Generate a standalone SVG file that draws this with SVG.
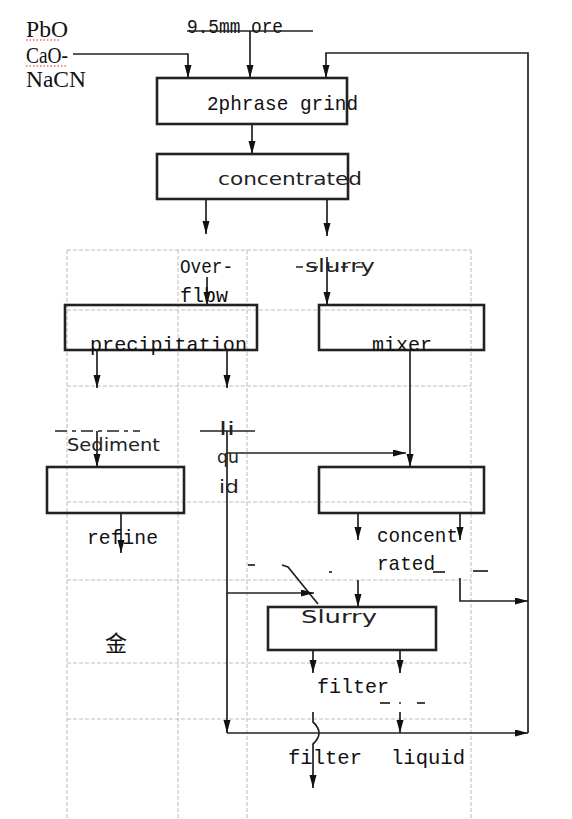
<svg xmlns="http://www.w3.org/2000/svg" width="572" height="819" viewBox="0 0 572 819">
<defs>
<marker id="ah" markerUnits="userSpaceOnUse" markerWidth="14" markerHeight="8" refX="13" refY="3.5" orient="auto">
<path d="M0,0 L13,3.5 L0,7 Z" fill="#111"/>
</marker>
<style>
.grid{stroke:#bcbcbc;stroke-width:1;stroke-dasharray:4,2;fill:none}
.box{fill:none;stroke:#222;stroke-width:2.6}
.ln{fill:none;stroke:#222;stroke-width:1.7}
.ar{fill:none;stroke:#222;stroke-width:1.7;marker-end:url(#ah)}
.mono{font-family:"Liberation Mono","DejaVu Sans Mono",monospace;font-size:21px;fill:#111}
.sans{font-family:"DejaVu Sans","Noto Sans",sans-serif;font-size:18px;fill:#222}
.serif{font-family:"Liberation Serif","DejaVu Serif",serif;font-size:23px;fill:#111}
.cjk{font-family:"Noto Sans CJK SC","Noto Sans CJK JP",sans-serif;font-size:22px;fill:#111}
.red{stroke:#d22;stroke-width:1;stroke-dasharray:1.5,2;fill:none}
</style>
</defs>
<rect width="572" height="819" fill="#fff"/>
<g id="grid">
<line class="grid" x1="67" y1="250" x2="67" y2="819"/>
<line class="grid" x1="178" y1="250" x2="178" y2="819"/>
<line class="grid" x1="247" y1="250" x2="247" y2="819"/>
<line class="grid" x1="471" y1="250" x2="471" y2="819"/>
<line class="grid" x1="67" y1="250" x2="471" y2="250"/>
<line class="grid" x1="67" y1="310" x2="471" y2="310"/>
<line class="grid" x1="67" y1="386" x2="471" y2="386"/>
<line class="grid" x1="67" y1="502" x2="471" y2="502"/>
<line class="grid" x1="67" y1="580" x2="471" y2="580"/>
<line class="grid" x1="67" y1="663" x2="471" y2="663"/>
<line class="grid" x1="67" y1="719" x2="471" y2="719"/>
</g>
<g id="inputs">
<text class="serif" x="26" y="37" textLength="42" lengthAdjust="spacingAndGlyphs">PbO</text>
<text class="serif" x="26" y="63" textLength="42" lengthAdjust="spacingAndGlyphs">CaO-</text>
<text class="serif" x="26" y="87" textLength="60" lengthAdjust="spacingAndGlyphs">NaCN</text>
<line class="red" x1="26" y1="40" x2="60" y2="40"/>
<line class="red" x1="26" y1="66" x2="66" y2="66"/>
<text class="mono" x="187" y="33" textLength="96" lengthAdjust="spacingAndGlyphs">9.5mm ore</text>
</g>
<g id="connectors">
<line class="ln" x1="187" y1="31" x2="313" y2="31"/>
<line class="ar" x1="250" y1="31" x2="250" y2="78"/>
<polyline class="ar" points="73,54 188,54 188,78"/>
<polyline class="ar" points="528,733 528,53 326,53 326,78"/>
<line class="ar" x1="252" y1="124" x2="252" y2="154"/>
<line class="ar" x1="206" y1="199" x2="206" y2="234"/>
<line class="ar" x1="327" y1="199" x2="327" y2="236"/>
<line class="ar" x1="207" y1="277" x2="207" y2="305"/>
<line class="ar" x1="327" y1="257" x2="327" y2="305"/>
<line class="ln" x1="296" y1="267" x2="366" y2="267" stroke-dasharray="7,8"/>
<line class="ar" x1="97" y1="350" x2="97" y2="388"/>
<line class="ar" x1="227" y1="350" x2="227" y2="388"/>
<line class="ln" x1="55" y1="431" x2="140" y2="431" stroke-dasharray="12,5,4,5"/>
<line class="ar" x1="97" y1="431" x2="97" y2="467"/>
<line class="ln" x1="200" y1="431" x2="255" y2="431"/>
<line class="ar" x1="227" y1="431" x2="227" y2="733"/>
<line class="ar" x1="410" y1="350" x2="410" y2="467"/>
<line class="ar" x1="227" y1="453" x2="406" y2="453"/>
<line class="ar" x1="121" y1="513" x2="121" y2="553"/>
<line class="ar" x1="358" y1="513" x2="358" y2="540"/>
<line class="ar" x1="460" y1="513" x2="460" y2="540"/>
<polyline class="ar" points="460,578 460,601 528,601"/>
<line class="ln" x1="433" y1="572" x2="445" y2="572"/>
<line class="ln" x1="473" y1="571" x2="488" y2="571"/>
<line class="ln" x1="248" y1="565" x2="255" y2="565"/>
<polyline class="ln" points="282,565 288,567 318,604"/>
<line class="ln" x1="329" y1="572" x2="332" y2="572"/>
<line class="ar" x1="227" y1="593" x2="314" y2="593"/>
<line class="ar" x1="358" y1="580" x2="358" y2="607"/>
<line class="ar" x1="313" y1="650" x2="313" y2="673"/>
<line class="ar" x1="400" y1="650" x2="400" y2="673"/>
<line class="ln" x1="380" y1="703" x2="390" y2="703"/>
<line class="ln" x1="399" y1="703" x2="401" y2="703"/>
<line class="ln" x1="417" y1="703" x2="425" y2="703"/>
<line class="ar" x1="400" y1="712" x2="400" y2="733"/>
<line class="ar" x1="227" y1="733" x2="528" y2="733"/>
<path class="ar" d="M313,712 L313,722 Q325,733 313,744 L313,788"/>
</g>
<g id="grind">
<rect class="box" x="157" y="78" width="190" height="46"/>
<text class="mono" x="207" y="110" textLength="151" lengthAdjust="spacingAndGlyphs">2phrase grind</text>
</g>
<g id="concentrated">
<rect class="box" x="157" y="154" width="191" height="45"/>
<text class="sans" x="218" y="185" textLength="144" lengthAdjust="spacingAndGlyphs">concentrated</text>
</g>
<g id="overflow">
<text class="mono" x="180" y="273" textLength="53" lengthAdjust="spacingAndGlyphs">Over-</text>
<text class="mono" x="180" y="302" textLength="48" lengthAdjust="spacingAndGlyphs">flbw</text>
</g>
<g id="slurry-label">
<text class="sans" x="305" y="272" textLength="70" lengthAdjust="spacingAndGlyphs">slurry</text>
</g>
<g id="precipitation">
<rect class="box" x="65" y="305" width="192" height="45"/>
<text class="mono" x="90" y="351" textLength="157" lengthAdjust="spacingAndGlyphs">precipitation</text>
</g>
<g id="mixer">
<rect class="box" x="319" y="305" width="165" height="45"/>
<text class="mono" x="372" y="351" textLength="60" lengthAdjust="spacingAndGlyphs">mixer</text>
</g>
<g id="sediment">
<text class="sans" x="67" y="451" textLength="93" lengthAdjust="spacingAndGlyphs">Sediment</text>
</g>
<g id="liquid-label">
<text class="sans" x="219" y="435" textLength="16" lengthAdjust="spacingAndGlyphs">li</text>
<text class="sans" x="217" y="463" textLength="22" lengthAdjust="spacingAndGlyphs">qu</text>
<text class="sans" x="219" y="493" textLength="20" lengthAdjust="spacingAndGlyphs">id</text>
</g>
<g id="refine">
<rect class="box" x="47" y="467" width="137" height="46"/>
<text class="mono" x="87" y="544" textLength="71" lengthAdjust="spacingAndGlyphs">refine</text>
</g>
<g id="concentrator2">
<rect class="box" x="319" y="467" width="165" height="46"/>
<text class="mono" x="377" y="542" textLength="81" lengthAdjust="spacingAndGlyphs">concent</text>
<text class="mono" x="377" y="570" textLength="58" lengthAdjust="spacingAndGlyphs">rated</text>
</g>
<g id="gold">
<text class="cjk" x="105" y="651">金</text>
</g>
<g id="slurry-box">
<rect class="box" x="268" y="607" width="168" height="43"/>
<text class="sans" x="301" y="623" textLength="76" lengthAdjust="spacingAndGlyphs">Slurry</text>
</g>
<g id="filter">
<text class="mono" x="317" y="693" textLength="72" lengthAdjust="spacingAndGlyphs">filter</text>
</g>
<g id="outputs">
<text class="mono" x="288" y="764" textLength="74" lengthAdjust="spacingAndGlyphs">filter</text>
<text class="mono" x="391" y="764" textLength="74" lengthAdjust="spacingAndGlyphs">liquid</text>
</g>
</svg>
